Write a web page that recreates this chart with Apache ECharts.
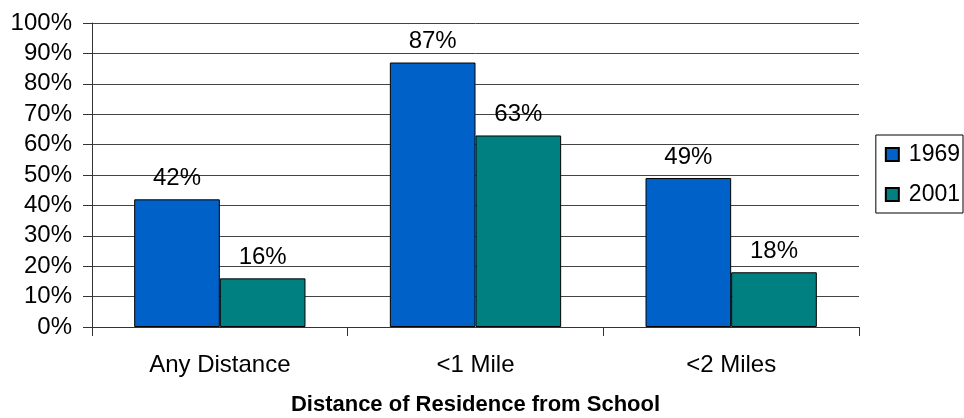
<!DOCTYPE html>
<html>
<head>
<meta charset="utf-8">
<script src="https://cdn.jsdelivr.net/npm/echarts@6/dist/echarts.min.js"></script>
<style>
  html, body { margin: 0; padding: 0; background: #fff; }
  #chart { width: 964px; height: 418px; }
</style>
</head>
<body>
<div id="chart"></div>
<script>
// Share of students by distance band, two survey years
const categories = ['Any Distance', '<1 Mile', '<2 Miles'];
const years = ['1969', '2001'];
const values1969 = [42, 87, 49];
const values2001 = [16, 63, 18];
const seriesColors = ['#0062C8', '#008080'];

const font = '"Liberation Sans", Arial, sans-serif';

const chart = echarts.init(document.getElementById('chart'));

function barSeries(name, data, color) {
  return {
    name: name,
    type: 'bar',
    data: data,
    barGap: '0%',
    barCategoryGap: '33%',
    itemStyle: { color: color, borderColor: '#000', borderWidth: 1 },
    label: {
      show: true,
      position: 'top',
      distance: 9,
      formatter: '{c}%',
      color: '#000',
      fontFamily: font,
      fontSize: 24
    }
  };
}

chart.setOption({
  animation: false,
  grid: {
    left: 92, right: 105, top: 23, bottom: 91,
    containLabel: false,
    outerBoundsMode: 'none'
  },
  legend: {
    orient: 'vertical',
    right: 1,
    top: 135,
    data: years,
    itemWidth: 13,
    itemHeight: 13,
    itemGap: 17,
    padding: [8, 3, 7, 9],
    borderColor: '#000',
    borderWidth: 1,
    icon: 'rect',
    textStyle: { color: '#000', fontFamily: font, fontSize: 23, padding: [0, 0, 0, 5] }
  },
  xAxis: {
    type: 'category',
    data: categories,
    name: 'Distance of Residence from School',
    nameLocation: 'middle',
    nameGap: 67,
    nameTextStyle: { color: '#000', fontFamily: font, fontSize: 22, fontWeight: 'bold' },
    axisLine: { lineStyle: { color: '#333', width: 1 } },
    axisTick: { show: true, length: 9, lineStyle: { color: '#333' } },
    axisLabel: { color: '#000', fontFamily: font, fontSize: 24, margin: 26 }
  },
  yAxis: {
    type: 'value',
    min: 0,
    max: 100,
    interval: 10,
    axisLine: { show: true, lineStyle: { color: '#333', width: 1 } },
    axisTick: { show: true, length: 9, inside: false, lineStyle: { color: '#333' } },
    axisLabel: { color: '#000', fontFamily: font, fontSize: 24, margin: 20, formatter: '{value}%' },
    splitLine: { show: true, lineStyle: { color: '#444', width: 1 } }
  },
  series: [
    barSeries(years[0], values1969, seriesColors[0]),
    barSeries(years[1], values2001, seriesColors[1])
  ]
});
</script>
</body>
</html>
